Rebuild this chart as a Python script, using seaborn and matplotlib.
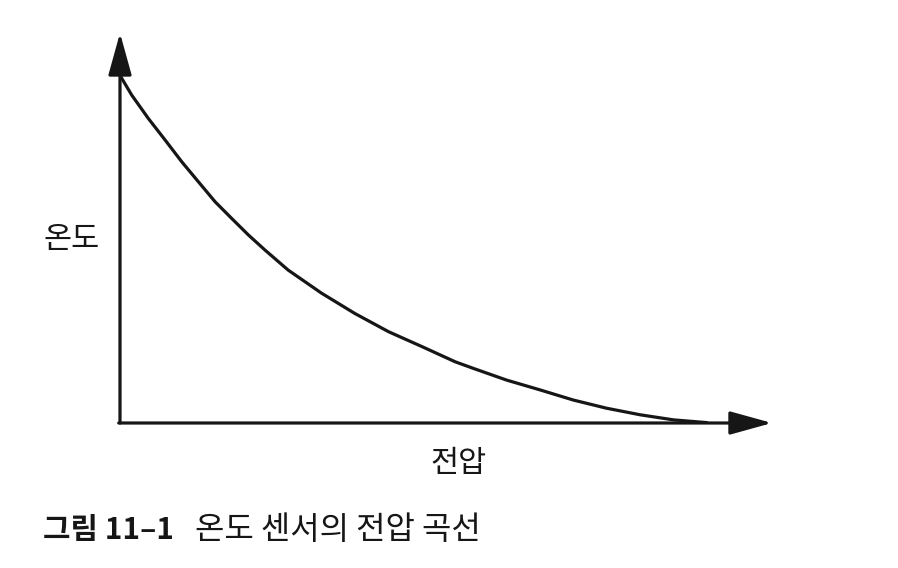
import matplotlib
matplotlib.use('Agg')
import matplotlib.pyplot as plt
import seaborn as sns
import pandas as pd

# voltage (x) vs temperature (y), arbitrary 0-100 units
voltage = [0, 0.26, 1.79, 4.34, 6.90, 9.46, 12.0, 14.6, 17.1, 19.7, 22.2,
           25.8, 30.9, 36.0, 41.2, 46.3, 51.4, 54.2, 59.3, 64.4, 69.5,
           74.6, 79.8, 84.9, 90.0]
temperature = [89.2, 88.4, 84.1, 78.1, 72.6, 67.0, 61.9, 56.7, 52.5, 48.2, 44.4,
               39.2, 33.3, 28.1, 23.4, 19.6, 15.7, 14.0, 11.0, 8.5, 5.9,
               3.8, 2.1, 0.8, 0.1]

x_label = '전압'
y_label = '온도'
caption_num = '그림 11–1'
caption_text = '온도 센서의 전압 곡선'

df = pd.DataFrame({'voltage': voltage, 'temperature': temperature})

sns.set_style('white')
plt.rcParams['font.family'] = ['Noto Sans CJK KR', 'DejaVu Sans']

ink = '#161616'

fig = plt.figure(figsize=(8.98, 5.68), dpi=100)
ax = fig.add_axes([120 / 898, 1 - 423 / 568, 652 / 898, 390 / 568])

sns.lineplot(data=df, x='voltage', y='temperature', ax=ax, color=ink,
             linewidth=2.3, estimator=None, sort=False,
             solid_joinstyle='round', solid_capstyle='round')

ax.set_xlim(0, 100)
ax.set_ylim(0, 100)
for s in ax.spines.values():
    s.set_visible(False)
ax.set_xticks([])
ax.set_yticks([])
ax.set_xlabel('')
ax.set_ylabel('')
ax.patch.set_alpha(0)

# axes drawn as arrows
arrow = dict(arrowstyle='-|>,head_length=2.6,head_width=0.72', color=ink,
             lw=2.3, shrinkA=0, shrinkB=0, mutation_scale=10)
ax.annotate('', xy=(0, 1), xytext=(0, 0), xycoords='axes fraction',
            arrowprops=arrow, annotation_clip=False)
ax.annotate('', xy=(1, 0), xytext=(-0.002, 0), xycoords='axes fraction',
            arrowprops=arrow, annotation_clip=False)

fig.text(72 / 898, 1 - 240 / 568, y_label, fontsize=22, color=ink,
         ha='center', va='center')
fig.text(459 / 898, 1 - 464 / 568, x_label, fontsize=22, color=ink,
         ha='center', va='center')

fig.text(43 / 898, 1 - 530 / 568, caption_num, fontsize=21.5, color=ink,
         ha='left', va='center', fontweight='bold')
fig.text(195 / 898, 1 - 530 / 568, caption_text, fontsize=23, color=ink,
         ha='left', va='center')

plt.savefig('out.png', dpi=100, facecolor='white')
